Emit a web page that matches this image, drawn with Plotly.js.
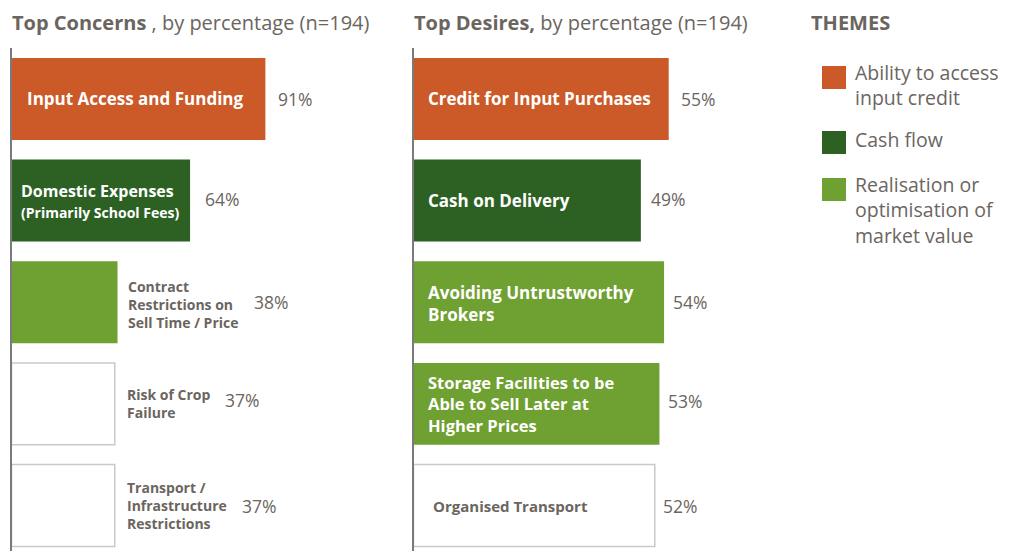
<!DOCTYPE html>
<html>
<head>
<meta charset="utf-8">
<script src="https://cdn.plot.ly/plotly-3.0.1.min.js"></script>
<style>html,body{margin:0;padding:0;background:#fff;}#chart{width:1012px;height:551px;}</style>
</head>
<body>
<div id="chart"></div>
<script>
// ---- DATA ----
const concernLabels = [
  ["Input Access and Funding"],
  ["Domestic Expenses", "(Primarily School Fees)"],
  ["Contract", "Restrictions on", "Sell Time / Price"],
  ["Risk of Crop", "Failure"],
  ["Transport /", "Infrastructure", "Restrictions"]
];
const concernValues = [91, 64, 38, 37, 37];
const concernThemes = ["credit", "cash", "market", null, null];

const desireLabels = [
  ["Credit for Input Purchases"],
  ["Cash on Delivery"],
  ["Avoiding Untrustworthy", "Brokers"],
  ["Storage Facilities to be", "Able to Sell Later at", "Higher Prices"],
  ["Organised Transport"]
];
const desireValues = [55, 49, 54, 53, 52];
const desireThemes = ["credit", "cash", "market", "market", null];

const themeKeys = ["credit", "cash", "market"];
const themeNames = [["Ability to access", "input credit"], ["Cash flow"], ["Realisation or", "optimisation of", "market value"]];

const titleLeft = "<b>Top Concerns</b> , by percentage (n=194)";
const titleRight = "<b>Top Desires,</b> by percentage (n=194)";
const legendTitle = "<b>THEMES</b>";

// ---- STYLE ----
const W = 1012, H = 551;
const FONT = "'Open Sans', sans-serif";
const GREY = "#6b6560";
const themeColors = {credit: "#cb5a28", cash: "#2d6124", market: "#6fa032"};
const OUTLINE = "#c9c9c9";
const px = x => x / W;
const py = y => 1 - y / H;

const L0 = 11.5, L1 = 400, LS = 2.79;
const R0 = 413.5, R1 = 800, RS = 4.64;

// label placement (style)
const concernStyle = {
  inBar:   [true, true, false, false, false],
  lshift:  [13, 7, 8, 10, 10],
  size:    [17, 16, 14, 14, 14],
  subSize: [null, 14, null, null, null],
  lyshift: [0, 0, -2, 0, 0],
  vshift:  [11, 13, 134, 108, 125],
  vyshift: [0, 2, 0, 4, 0]
};
const desireStyle = {
  inBar:   [true, true, true, true, true],
  lshift:  [12, 12, 12, 12, 17.5],
  size:    [17, 17, 17, 16.5, 15],
  subSize: [null, null, null, null, null],
  lyshift: [0, 0, -1, 0, 0],
  vshift:  [10, 8, 7, 7, 6],
  vyshift: [0, 2, 0, 3, 0]
};

function barTrace(vals, themes, xa, ya) {
  return {
    type: "bar", orientation: "h",
    x: vals, y: vals.map((v, i) => i),
    xaxis: xa, yaxis: ya,
    width: 0.806,
    marker: {
      color: themes.map(t => t ? themeColors[t] : "#ffffff"),
      line: {
        color: themes.map(t => t ? themeColors[t] : OUTLINE),
        width: themes.map(t => t ? 0 : 1.5)
      }
    },
    textposition: "none",
    hoverinfo: "none"
  };
}

const data = [
  barTrace(concernValues, concernThemes, "x", "y"),
  barTrace(desireValues, desireThemes, "x2", "y2")
];

const annotations = [];
function addLabels(labels, vals, themes, st, xr, yr) {
  labels.forEach((lines, i) => {
    const inBar = st.inBar[i];
    const white = !!themes[i] && inBar;
    const txt = lines.map((l, j) =>
      (j > 0 && st.subSize[i]) ? "<span style='font-size:" + st.subSize[i] + "px'><b>" + l + "</b></span>" : "<b>" + l + "</b>"
    ).join("<br>");
    annotations.push({
      xref: xr, yref: yr, x: inBar ? 0 : vals[i], y: i,
      xanchor: "left", yanchor: "middle", align: "left",
      xshift: st.lshift[i], yshift: st.lyshift[i], showarrow: false,
      text: txt,
      font: {family: FONT, size: st.size[i], color: white ? "#ffffff" : GREY}
    });
    annotations.push({
      xref: xr, yref: yr, x: vals[i], y: i,
      xanchor: "left", yanchor: "middle",
      xshift: st.vshift[i], yshift: st.vyshift[i], showarrow: false,
      text: vals[i] + "%",
      font: {family: FONT, size: 17.5, color: GREY}
    });
  });
}
addLabels(concernLabels, concernValues, concernThemes, concernStyle, "x", "y");
addLabels(desireLabels, desireValues, desireThemes, desireStyle, "x2", "y2");

// titles
annotations.push({xref: "paper", yref: "paper", x: px(10), y: py(23), xanchor: "left", yanchor: "middle",
  showarrow: false, text: titleLeft, font: {family: FONT, size: 20, color: GREY}});
annotations.push({xref: "paper", yref: "paper", x: px(412), y: py(23), xanchor: "left", yanchor: "middle",
  showarrow: false, text: titleRight, font: {family: FONT, size: 20, color: GREY}});
annotations.push({xref: "paper", yref: "paper", x: px(809), y: py(23), xanchor: "left", yanchor: "middle",
  showarrow: false, text: legendTitle, font: {family: FONT, size: 20, color: GREY}});

// legend
const shapes = [];
const legendSquareTop = [66, 131, 178];
const legendTextCenter = [85.5, 139, 210];
themeKeys.forEach((k, i) => {
  shapes.push({type: "rect", xref: "paper", yref: "paper",
    x0: px(822), x1: px(846), y0: py(legendSquareTop[i]), y1: py(legendSquareTop[i] + 23),
    fillcolor: themeColors[k], line: {width: 0}});
  annotations.push({xref: "paper", yref: "paper", x: px(853), y: py(legendTextCenter[i]),
    xanchor: "left", yanchor: "middle", align: "left", showarrow: false,
    text: themeNames[i].join("<br>"),
    font: {family: FONT, size: 19.5, color: GREY}});
});

const yTop = 48.1;
const axisCommon = {showgrid: false, zeroline: false, showticklabels: false, ticks: "", fixedrange: true};
const layout = {
  width: W, height: H,
  margin: {l: 0, r: 0, t: 0, b: 0, pad: 0},
  paper_bgcolor: "#ffffff", plot_bgcolor: "rgba(0,0,0,0)",
  showlegend: false,
  font: {family: FONT, color: GREY},
  xaxis: Object.assign({}, axisCommon, {domain: [px(L0), px(L1)], range: [0, (L1 - L0) / LS], anchor: "y"}),
  yaxis: Object.assign({}, axisCommon, {domain: [0, 1 - yTop / H], range: [4.447, -0.5], anchor: "x",
    showline: true, linecolor: "#7a7a7a", linewidth: 1.5}),
  xaxis2: Object.assign({}, axisCommon, {domain: [px(R0), px(R1)], range: [0, (R1 - R0) / RS], anchor: "y2"}),
  yaxis2: Object.assign({}, axisCommon, {domain: [0, 1 - yTop / H], range: [4.447, -0.5], anchor: "x2",
    showline: true, linecolor: "#7a7a7a", linewidth: 1.5}),
  annotations: annotations,
  shapes: shapes
};

Plotly.newPlot("chart", data, layout, {staticPlot: true, displayModeBar: false});
</script>
</body>
</html>
